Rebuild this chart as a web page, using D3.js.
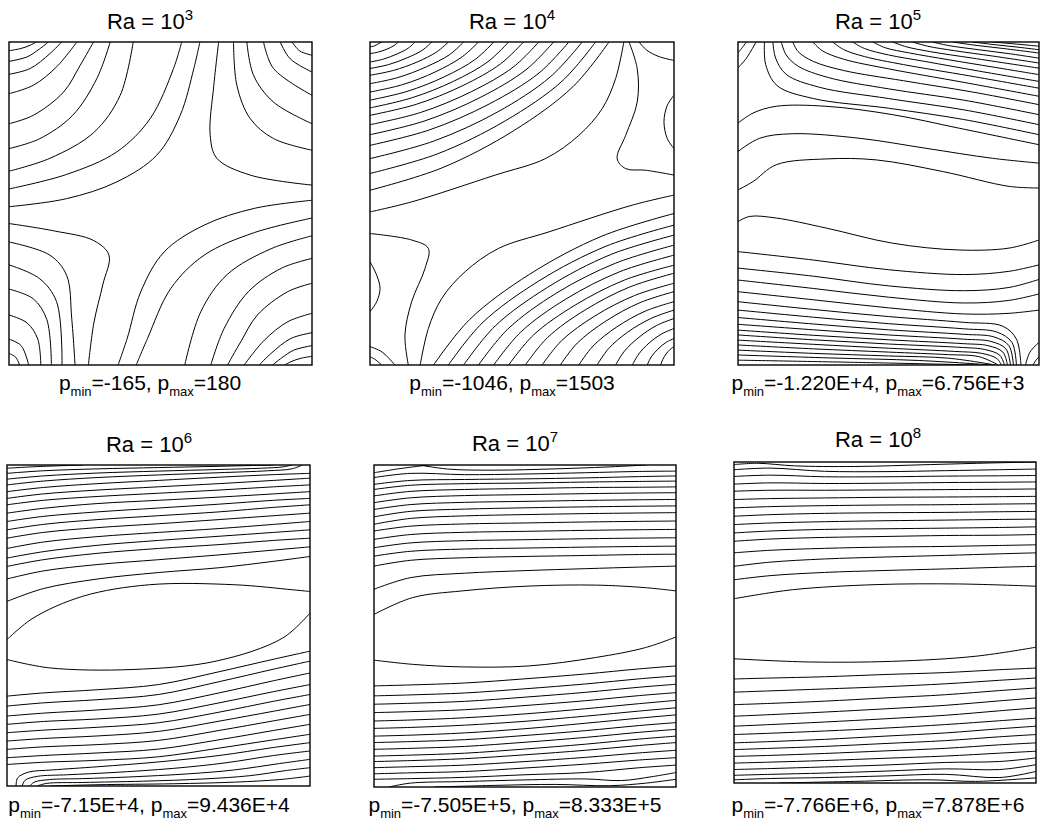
<!DOCTYPE html>
<html>
<head>
    <script src="https://d3js.org/d3.v7.min.js"></script>
    <style>
        body { margin: 0; background: #fff; }
        svg text { font-family: "Liberation Sans", Arial, sans-serif; fill: #000; }
        .iso { fill: none; stroke: #000; stroke-width: 1; }
        .frame { fill: none; stroke: #000; stroke-width: 1.4; }
    </style>
    <title>Pressure isobars</title>
</head>
<body>
<svg width="1059" height="825"></svg>
<script>
// Rayleigh numbers and pressure range labels
var raExponents = [3, 4, 5, 6, 7, 8];
var pMinLabels = ["-165", "-1046", "-1.220E+4", "-7.15E+4", "-7.505E+5", "-7.766E+6"];
var pMaxLabels = ["180", "1503", "6.756E+3", "9.436E+4", "8.333E+5", "7.878E+6"];

// isobars, [u, v] in 0..100 (u from left wall, v from top wall)
var p1Lines = [
    [[9,0],[7,1],[4,2],[0,2.7]],
    [[13,0],[10,2.2],[6,4.6],[0,6]],
    [[17.4,0],[13.5,3.6],[7,8.2],[0,10]],
    [[22.4,0],[15.7,7.7],[8,13.4],[0,16]],
    [[27.9,0],[23.5,7.2],[18,15.5],[8,22.7],[0,25.3]],
    [[33.4,0],[29,11.3],[21,22.7],[10,30],[0,33]],
    [[41,0],[36.7,16.5],[28,28],[13.5,36],[0,40]],
    [[57,0],[54.3,8.2],[46.6,23.7],[35.6,34],[19,41],[0,45.5]],
    [[63,0],[61,8.2],[56.5,22.7],[48.8,35],[35.6,43.3],[19,48.5],[0,51]],
    [[69.2,0],[67.6,13.4],[66.4,28.9],[68.6,36],[79.6,41.2],[100,44.3]],
    [[74.1,0],[75.2,13.4],[79.6,23.7],[87.3,29.9],[100,33.5]],
    [[78.5,0],[80.7,10.3],[87.3,18.6],[100,25.3]],
    [[84,0],[87.3,8.2],[100,16.5]],
    [[89.5,0],[92.8,5.2],[100,9.3]],
    [[93.4,0],[96,2.8],[100,4.1]],
    [[0,56.2],[15,58.5],[28,61.5],[33,66],[31,75],[28,87],[26.2,100]],
    [[0,61.9],[13.5,66],[19,72.2],[20.7,85.6],[21.8,100]],
    [[0,69],[10,73.2],[15.7,80.4],[17.5,100]],
    [[0,76.5],[8,79.5],[12.5,86],[14,100]],
    [[0,84.5],[6,87],[9.5,92],[10.5,100]],
    [[0,92],[4,94],[6.5,100]],
    [[0,96.4],[2.2,97.6],[3.5,100]],
    [[36,100],[39,91.8],[43.5,77.3],[51.2,65],[64.4,56.7],[81,51.5],[100,49]],
    [[42,100],[45.7,91.8],[53.4,76.3],[64.4,66],[81,59],[100,54.5]],
    [[58,100],[63.3,83.5],[72,72],[86.5,64],[100,60]],
    [[66.6,100],[71,88.7],[79,77.3],[90,70],[100,67]],
    [[72.1,100],[76.5,92.8],[82,84.5],[92,77.3],[100,74.7]],
    [[77.6,100],[84.3,92.3],[92,86.6],[100,84]],
    [[82.6,100],[86.5,96.4],[93,91.8],[100,90]],
    [[87,100],[90,97.8],[94,95.4],[100,94]],
    [[91,100],[93,99],[96,98],[100,97.3]]
];

var p2Lines = [
    [[0,1.5],[1.5,1.2],[2.5,0.7],[3.8,0]],
    [[0,3.6],[2.8,3.1],[5.6,2.2],[7.9,1.1],[9.3,0]],
    [[0,6.2],[4.4,5.3],[8.9,3.7],[12.6,1.9],[14.8,0]],
    [[0,8.2],[6.1,7],[12.2,4.9],[17.3,2.5],[20.3,0]],
    [[0,10.3],[7.7,8.8],[15.5,6.2],[21.9,3.1],[25.8,0]],
    [[0,12.9],[9.2,11],[18.5,7.7],[26.2,3.9],[30.8,0]],
    [[0,15.5],[10.7,13.2],[21.4,9.3],[30.3,4.6],[35.7,0]],
    [[0,18],[12.2,15.3],[24.4,10.8],[34.6,5.4],[40.7,0]],
    [[0,20.4],[13.7,17.3],[27.4,12.2],[38.8,6.1],[45.6,0]],
    [[0,22.7],[15.2,19.3],[30.3,13.6],[42.9,6.8],[50.5,0]],
    [[0,25.6],[16.7,21.8],[33.3,15.4],[47.2,7.7],[55.5,0]],
    [[0,28.7],[18.1,24.4],[36.2,17.2],[51.3,8.6],[60.4,0]],
    [[0,32],[19.6,27.2],[39.2,19.2],[55.6,9.6],[65.4,0]],
    [[0,36.1],[20.9,30.7],[41.9,21.7],[59.3,10.8],[69.8,0]],
    [[0,40.7],[22.3,34.6],[44.5,24.4],[63.1,12.2],[74.2,0]],
    [[0,45.9],[23.6,39],[47.2,27.5],[66.8,13.8],[78.6,0]],
    [[0,52.6],[13.7,49.5],[41.2,41.2],[57.7,36.1],[68.7,28.9],[76.4,20.6],[80.8,11.3],[83.5,0]],
    [[88.5,0],[91,2.5],[95,4.5],[100,5.7]],
    [[85.2,0],[87.9,8.2],[87.9,18.6],[84.1,28.9],[81.3,36.1],[84.1,39.2],[90.7,39.7],[100,41.2]],
    [[100,16.5],[97.8,19.6],[96.7,24.7],[97.8,29.9],[100,33]],
    [[0,59.3],[13.7,61.3],[19.2,63.9],[18.1,70.1],[13.7,80.4],[11.5,90.7],[12.6,100]],
    [[0,68],[2.2,72.2],[3.3,76.3],[2.2,80.4],[0,83.5]],
    [[0,94.3],[4,96],[8.2,100]],
    [[0,97.4],[2,98.5],[3.8,100]],
    [[16.5,100],[19.2,88.7],[23.6,79.4],[31.3,71.1],[42.3,63.9],[58.8,58.8],[86.3,50.5],[100,47.4]],
    [[20.9,100],[32.8,85.9],[52.5,71.9],[76.3,60.1],[100,53.1]],
    [[25.8,100],[36.9,87],[55.5,74],[77.7,63.2],[100,56.7]],
    [[30.8,100],[41.2,87.9],[58.5,75.9],[79.2,65.8],[100,59.8]],
    [[35.7,100],[45.3,88.9],[61.4,77.7],[80.7,68.5],[100,62.9]],
    [[40.7,100],[49.6,89.8],[64.4,79.6],[82.2,71.1],[100,66]],
    [[45.6,100],[53.8,90.7],[67.4,81.5],[83.7,73.7],[100,69.1]],
    [[51.1,100],[58.4,91.5],[70.7,83],[85.3,75.9],[100,71.6]],
    [[56.6,100],[63.1,92.4],[74,84.8],[87,78.5],[100,74.7]],
    [[62.6,100],[68.2,93.2],[77.6,86.4],[88.8,80.7],[100,77.3]],
    [[68.7,100],[73.4,94.1],[81.2,88.2],[90.6,83.3],[100,80.4]],
    [[74.7,100],[78.5,94.9],[84.8,89.8],[92.4,85.6],[100,83]],
    [[80.8,100],[83.7,95.7],[88.5,91.4],[94.2,87.8],[100,85.6]],
    [[86.3,100],[88.4,96.6],[91.8,93.2],[95.9,90.4],[100,88.7]],
    [[91.2,100],[92.5,97.5],[94.7,95.1],[97.4,93],[100,91.8]],
    [[95.6,100],[96.3,98.3],[97.4,96.6],[98.7,95.2],[100,94.3]]
];

var p3Lines = [
    [[0,8],[2.8,5],[6,0]],
    [[0,3.4],[1.7,1.4],[2.8,0]],
    [[8.8,0],[9.2,7],[13,13.5],[25,17.5],[50,20.5],[75,24],[100,28.7]],
    [[11.6,0],[12.5,5],[16,10],[27,14],[50,17.5],[75,21],[100,25.6]],
    [[14.4,0],[16,4],[20,7.5],[30,11],[50,14.5],[75,18],[100,22.5]],
    [[18.2,0],[20,3],[25,6],[35,8.8],[55,12],[78,15.5],[100,19.4]],
    [[24.9,0],[28,2.7],[35,5.3],[50,8.3],[75,12.5],[100,16.8]],
    [[31.5,0],[35,2.3],[42,4.5],[55,7],[77,10.5],[100,14.3]],
    [[38.1,0],[42,2],[50,4],[62,6],[80,9],[100,12.2]],
    [[44.8,0],[49,1.8],[57,3.4],[70,5.5],[85,7.8],[100,10.1]],
    [[51.4,0],[56,1.5],[64,3],[78,5],[100,8.1]],
    [[58,0],[63,1.3],[72,2.7],[85,4.4],[100,6.5]],
    [[64.6,0],[70,1.1],[80,2.4],[90,3.6],[100,5]],
    [[71.3,0],[78,0.9],[88,2],[100,3.4]],
    [[77.9,0],[85,0.8],[93,1.6],[100,2.4]],
    [[84.5,0],[92,0.6],[100,1.3]],
    [[0,25.1],[5,22],[12.7,19.9],[29.3,19.9],[51.4,22.5],[73.5,26.7],[100,31.8]],
    [[0,33.9],[7.2,29.8],[18.2,28.4],[40.3,29.8],[62.4,32.9],[84.5,36],[100,37.5]],
    [[0,45.8],[5,43.2],[12.7,38],[29.3,36.2],[45.9,36.5],[68,40.1],[90.1,44.7],[100,45.2]],
    [[0,55.6],[3.9,54],[12.7,54.5],[29.3,57.6],[51.4,62.3],[73.5,64.4],[90.1,63.8],[100,61.3]],
    [[0,64.9],[25,67.5],[50,70.5],[75,72],[90,71],[100,69]],
    [[0,70],[25,72.5],[50,75.5],[75,77],[90,76],[100,73.5]],
    [[0,73.7],[25,76.3],[50,79],[75,80.8],[90,80],[100,78]],
    [[0,77.3],[25,79.8],[50,82.3],[75,84.2],[90,84],[100,83]],
    [[0,80.4],[25,82.8],[50,85],[75,86.8],[88,88],[92.5,92],[94,100]],
    [[0,83],[25,85.2],[50,87.2],[75,88.8],[86,89.8],[91,93],[92.5,100]],
    [[0,85.3],[25,87.3],[50,89.1],[75,90.5],[85,91.3],[90,94],[91.5,100]],
    [[0,87.4],[25,89.1],[50,90.7],[75,92],[84,92.7],[89,95],[90.5,100]],
    [[0,89.2],[25,90.8],[50,92.2],[75,93.4],[83,94],[88,96],[89.5,100]],
    [[0,90.7],[25,92.2],[50,93.5],[75,94.6],[82,95.2],[87,97],[88.5,100]],
    [[0,92.3],[25,93.6],[50,94.8],[72,95.8],[81,96.4],[86,98],[87.5,100]],
    [[0,93.8],[25,95],[50,96],[70,96.8],[80,97.4],[86.5,100]],
    [[0,95.4],[25,96.4],[50,97.2],[70,97.9],[85.5,100]],
    [[0,96.9],[30,97.8],[60,98.6],[84.5,100]],
    [[0,98.5],[40,99.2],[80,100]],
    [[95.5,100],[97,96],[100,93]],
    [[98,100],[99,98.5],[100,97.5]]
];

// nearly horizontal isobars of the three high-Ra cases: v at fixed u stations
var rowStations = [0, 12, 30, 50, 70, 88, 100];

var p4Rows = [
    [42.5, 38.5, 35.5, 33.5, 32, 30, 28.5],
    [35.5, 33, 31, 29.5, 28, 26.5, 25.5],
    [31.6, 29.5, 27.5, 26, 24.8, 23.5, 22.8],
    [29, 27, 25, 23.5, 22.2, 21, 20.2],
    [26, 24, 22.3, 21, 19.8, 18.5, 17.6],
    [22.8, 21, 19.5, 18.3, 17, 15.8, 15],
    [20.2, 18.5, 17, 15.8, 14.6, 13.2, 12.4],
    [17.6, 16, 14.6, 13.4, 12.2, 11, 10.4],
    [15, 13.5, 12, 11, 10, 9, 8.3],
    [12.4, 11, 9.8, 8.8, 7.8, 6.8, 6.2],
    [10.4, 9, 7.8, 6.8, 5.8, 4.8, 4.1],
    [8.3, 7, 5.8, 4.8, 3.8, 3, 2.6],
    [72, 71, 70, 68.4, 64.4, 60.5, 58],
    [75.1, 74.1, 73.1, 71.5, 67.5, 63.6, 61.1],
    [78.2, 77.3, 76.3, 74.7, 71, 67.2, 64.8],
    [80.8, 79.9, 79.1, 77.6, 74.1, 70.6, 68.4],
    [83.4, 82.6, 81.7, 80.3, 77, 73.6, 71.5],
    [86, 85.2, 84.4, 83, 79.8, 76.7, 74.6],
    [88.6, 87.8, 87.1, 85.8, 82.7, 79.7, 77.7],
    [91.2, 90.5, 89.7, 88.5, 85.6, 82.7, 80.8],
    [93.3, 92.6, 92, 90.9, 88.2, 85.6, 83.9]
];
var p4Lines = [
    [[0,6.2],[12,5],[30,3.9],[50,3.1],[70,2.4],[86,1.8],[94,1.2],[97.5,0]],
    [[0,4.4],[12,3.4],[30,2.5],[50,1.9],[70,1.4],[84,1],[91,0.6],[94,0]],
    [[0,2.6],[12,1.8],[30,1.2],[50,0.8],[70,0.4],[88,0]],
    [[0,1],[10,0.5],[25,0]],
    [[0,54.4],[8.6,47.7],[25,40.9],[47,37.3],[75,37.3],[94.5,38.9],[100,39.4]],
    [[0,60.6],[14,63.2],[41.6,63.7],[69,61.1],[91,53.9],[100,46.1]],
    [[3,100],[3.5,97.5],[7,95.7],[15,95],[30,94],[50,92.5],[70,90.5],[88,88],[100,86.5]],
    [[5,100],[6,98.2],[10,97],[20,96.5],[35,95.8],[55,94.5],[72,92.8],[88,90.5],[100,89.1]],
    [[7.5,100],[9,98.8],[14,98],[25,97.7],[40,97.2],[60,96.2],[75,95],[90,93],[100,91.7]],
    [[10,100],[13,99.2],[25,98.9],[45,98.5],[65,97.8],[80,96.8],[92,95.2],[100,94.3]],
    [[14,100],[30,99.6],[55,99.3],[75,98.8],[90,98],[100,96.9]]
];

var p5Rows = [
    [38.6, 35, 33.6, 32.8, 32.2, 31.7, 31.4],
    [31.4, 29.6, 28.8, 28.4, 28.1, 27.8, 27.7],
    [28.3, 26.8, 26.1, 25.8, 25.5, 25.3, 25.2],
    [25.7, 24.2, 23.5, 23.2, 22.9, 22.7, 22.6],
    [23.1, 21.6, 20.9, 20.6, 20.3, 20.1, 20],
    [20.5, 19, 18.3, 18, 17.7, 17.5, 17.4],
    [18.4, 16.6, 15.8, 15.4, 15.1, 14.9, 14.8],
    [16.1, 14.4, 13.7, 13.3, 13, 12.8, 12.7],
    [13.8, 12.3, 11.6, 11.3, 11, 10.8, 10.7],
    [11.7, 10.2, 9.5, 9.2, 8.9, 8.7, 8.6],
    [9.6, 8.2, 7.6, 7.3, 7, 6.9, 6.8],
    [7.6, 6.3, 5.8, 5.6, 5.3, 5.1, 5],
    [6, 4.8, 4.5, 4.3, 4, 3.6, 3.4],
    [3.9, 2.6, 3, 2.8, 2.4, 2, 1.9],
    [68.6, 68.3, 67.7, 66.4, 64.9, 63.3, 62.4],
    [71.7, 71.4, 70.8, 69.5, 68, 66.4, 65.5],
    [74.3, 74, 73.4, 72.1, 70.6, 69, 68.1],
    [76.9, 76.6, 76, 74.7, 73.2, 71.6, 70.7],
    [79.5, 79.2, 78.5, 77.3, 75.7, 74.1, 73.1],
    [81.8, 81.5, 80.8, 79.6, 78, 76.4, 75.4],
    [84.2, 83.9, 83.2, 81.9, 80.2, 78.6, 77.6],
    [86.2, 85.9, 85.3, 84, 82.5, 80.9, 80],
    [88.3, 88, 87.4, 86.1, 84.6, 83, 82.1],
    [90.4, 90.1, 89.5, 88.2, 86.7, 85.1, 84.2],
    [92.1, 91.8, 91.2, 90, 88.6, 87.1, 86.2],
    [94, 93.7, 93.2, 92.1, 90.8, 89.4, 88.6],
    [95.9, 95.6, 95.2, 94.1, 92.9, 91.6, 90.9],
    [97.6, 97.4, 97, 96.2, 95.5, 94, 93.2]
];
var p5Lines = [
    [[0,2.4],[8,1.2],[18,0]],
    [[15,0],[25,1.3],[40,1.6],[60,1.2],[80,0.5],[90,0]],
    [[0,46.4],[12.7,41.2],[29.2,39.1],[51.3,37.6],[73.3,37.3],[89.9,38.1],[100,39.1]],
    [[0,60.6],[12.7,61.9],[29.2,62.7],[51.3,62.4],[73.3,59.8],[89.9,56.7],[100,53.4]],
    [[5,100],[12,98.8],[30,98.3],[50,97.8],[70,97.5],[82,98],[92,96.8],[100,95.5]],
    [[20,100],[40,99.5],[60,99.2],[78,99.6],[90,98.8],[100,97.6]]
];

var p6Rows = [
    [36.7, 35.4, 34.4, 33.8, 33.3, 32.8, 32.5],
    [32.5, 31.2, 30.2, 29.6, 29.1, 28.6, 28.3],
    [28.3, 27.5, 26.9, 26.5, 26.3, 26, 25.8],
    [24.7, 24, 23.5, 23.2, 22.9, 22.8, 22.6],
    [22.1, 21.5, 21, 20.8, 20.6, 20.4, 20.2],
    [19.5, 19, 18.6, 18.3, 18.1, 17.9, 17.8],
    [16.9, 16.4, 16, 15.8, 15.7, 15.5, 15.4],
    [14.3, 13.9, 13.6, 13.4, 13.3, 13.1, 13],
    [11.7, 11.4, 11.2, 11, 10.9, 10.8, 10.7],
    [9.1, 8.8, 8.8, 8.7, 8.6, 8.5, 8.4],
    [6.9, 6.5, 6.7, 6.6, 6.4, 6.3, 6.2],
    [4.5, 4.1, 4.6, 4.6, 4.4, 4.3, 4.2],
    [2.4, 1.9, 2.9, 3, 2.7, 2.4, 2.2],
    [67.6, 67.3, 66.9, 66.2, 65.6, 64.7, 64.2],
    [71.7, 71.3, 70.7, 70, 69.1, 68, 67.3],
    [75.6, 75.2, 74.5, 73.5, 72.5, 71.2, 70.4],
    [79.2, 78.7, 77.9, 76.9, 75.8, 74.4, 73.5],
    [82.3, 81.8, 81, 80, 78.9, 77.5, 76.6],
    [84.9, 84.5, 83.8, 82.9, 81.8, 80.6, 79.8],
    [87.5, 87.1, 86.4, 85.4, 84.4, 83.1, 82.3],
    [89.6, 89.2, 88.6, 87.7, 86.8, 85.6, 84.9],
    [91.7, 91.4, 90.8, 90, 89.2, 88.1, 87.5],
    [93.8, 93.5, 93, 92.3, 91.6, 90.7, 90.1],
    [95.8, 95.5, 95, 94.4, 93.6, 93.3, 92.2],
    [97.6, 97.3, 96.9, 96.3, 95.6, 95.8, 94.3],
    [99, 98.6, 98.3, 97.8, 97.3, 98.3, 96.4]
];
var p6Lines = [
    [[0,0.8],[8,0.4],[20,1.2],[40,1.4],[65,0.8],[85,0.3],[100,0]],
    [[0,42.6],[19.3,39.8],[47,38.2],[74.6,38],[100,38.7]],
    [[0,61.3],[24.9,62.3],[52.5,62.1],[80.1,60.5],[100,57.7]],
    [[15,100],[40,99.5],[65,99],[80,99.5],[100,98.4]]
];

function rowsToLines(rows) {
    return rows.map(function (r) {
        return rowStations.map(function (u, i) { return [u, r[i]]; });
    });
}

var panelLines = [
    p1Lines,
    p2Lines,
    p3Lines,
    rowsToLines(p4Rows).concat(p4Lines),
    rowsToLines(p5Rows).concat(p5Lines),
    rowsToLines(p6Rows).concat(p6Lines)
];

// layout: plot frame [left, top, right, bottom]; text anchors [centre x, title baseline, label baseline]
var frames = [
    [9, 42, 312, 365], [370, 42, 674, 365], [738, 42, 1039, 365],
    [7, 465, 310, 786], [374, 465, 676, 787], [734, 462, 1036, 783]
];
var textPos = [
    [150, 29, 390], [512, 29, 390], [878, 29, 390],
    [149, 452, 812], [515, 451, 812], [878, 447, 812]
];

var svg = d3.select("svg");

raExponents.forEach(function (ex, k) {
    var f = frames[k];
    var x = d3.scaleLinear().domain([0, 100]).range([f[0], f[2]]);
    var y = d3.scaleLinear().domain([0, 100]).range([f[1], f[3]]);

    svg.append("clipPath").attr("id", "clip" + k)
        .append("rect")
        .attr("x", f[0]).attr("y", f[1])
        .attr("width", f[2] - f[0]).attr("height", f[3] - f[1]);

    var line = d3.line()
        .x(function (d) { return x(d[0]); })
        .y(function (d) { return y(d[1]); })
        .curve(d3.curveCatmullRom.alpha(0.5));

    svg.append("g").attr("clip-path", "url(#clip" + k + ")")
        .selectAll("path")
        .data(panelLines[k])
        .enter()
        .append("path")
        .attr("class", "iso")
        .attr("d", line);

    svg.append("rect").attr("class", "frame")
        .attr("x", f[0]).attr("y", f[1])
        .attr("width", f[2] - f[0]).attr("height", f[3] - f[1]);

    // title  Ra = 10^n
    var t = svg.append("text")
        .attr("x", textPos[k][0]).attr("y", textPos[k][1])
        .attr("text-anchor", "middle")
        .attr("font-size", "22px");
    t.append("tspan").text("Ra = 10");
    t.append("tspan").attr("dy", -9).attr("font-size", "15px").text(ex);

    // pressure range label
    var lb = svg.append("text")
        .attr("x", textPos[k][0]).attr("y", textPos[k][2])
        .attr("text-anchor", "middle")
        .attr("font-size", "21px");
    lb.append("tspan").text("p");
    lb.append("tspan").attr("dy", 6).attr("font-size", "13px").text("min");
    lb.append("tspan").attr("dy", -6).text("=" + pMinLabels[k] + ", p");
    lb.append("tspan").attr("dy", 6).attr("font-size", "13px").text("max");
    lb.append("tspan").attr("dy", -6).text("=" + pMaxLabels[k]);
});
</script>
</body>
</html>
